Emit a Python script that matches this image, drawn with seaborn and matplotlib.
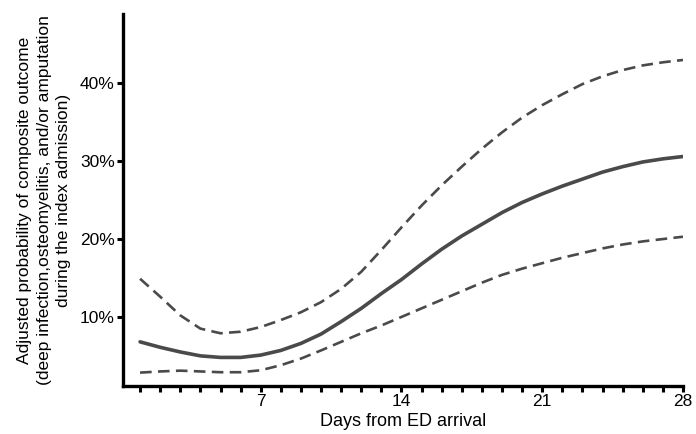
import matplotlib
matplotlib.use("Agg")
import matplotlib.pyplot as plt
import numpy as np
import pandas as pd
import seaborn as sns

# values (percent), one per day 1..28
days = list(range(1, 29))
estimate = [6.8, 6.1, 5.5, 5.0, 4.8, 4.8, 5.1, 5.7, 6.6, 7.8,
            9.4, 11.1, 13.0, 14.8, 16.8, 18.7, 20.4, 21.9, 23.4, 24.7,
            25.8, 26.8, 27.7, 28.6, 29.3, 29.9, 30.3, 30.6]
upper_ci = [14.9, 12.6, 10.2, 8.5, 7.9, 8.1, 8.7, 9.6, 10.6, 11.9,
            13.6, 15.8, 18.6, 21.5, 24.3, 26.9, 29.3, 31.6, 33.7, 35.6,
            37.2, 38.6, 39.9, 40.9, 41.7, 42.3, 42.7, 43.0]
lower_ci = [2.85, 3.0, 3.1, 3.0, 2.9, 2.9, 3.15, 3.8, 4.65, 5.7,
            6.8, 7.9, 8.9, 10.0, 11.1, 12.2, 13.3, 14.4, 15.4, 16.2,
            16.9, 17.6, 18.2, 18.8, 19.3, 19.7, 20.0, 20.3]

y_ticks = [10, 20, 30, 40]
x_labeled = [7, 14, 21, 28]

sns.set_theme(style="ticks")
plt.rcParams['font.family'] = ['Liberation Sans', 'DejaVu Sans']

df = pd.DataFrame({"day": days, "est": estimate, "hi": upper_ci, "lo": lower_ci})

fig = plt.figure(figsize=(6.96, 4.34), dpi=100)
ax = fig.add_axes([0.1767, 0.1106, 0.9813 - 0.1767, 0.9677 - 0.1106])

line_color = "#4a4a4a"
dash = (0, (4.4, 2.4))
sns.lineplot(data=df, x="day", y="est", ax=ax, color=line_color, linewidth=2.6)
sns.lineplot(data=df, x="day", y="hi", ax=ax, color=line_color, linewidth=1.9,
             linestyle=dash)
sns.lineplot(data=df, x="day", y="lo", ax=ax, color=line_color, linewidth=1.9,
             linestyle=dash)

ax.set_xlim(0.15, 28.0)
ax.set_ylim(1.13, 48.9)

ax.set_xticks(days)
ax.set_xticklabels([str(d) if d in x_labeled else "" for d in days])
ax.set_yticks(y_ticks)
ax.set_yticklabels([f"{v}%" for v in y_ticks])

for side in ["top", "right"]:
    ax.spines[side].set_visible(False)
for side in ["left", "bottom"]:
    ax.spines[side].set_linewidth(2.4)
    ax.spines[side].set_color("black")

ax.tick_params(axis="both", direction="out", length=4.5, width=2.2,
               color="black", labelsize=12.5, labelcolor="black", pad=1.5)

ax.set_xlabel("Days from ED arrival", fontsize=13, labelpad=3, color="black")
ax.set_ylabel("Adjusted probability of composite outcome\n"
              "(deep infection,osteomyelitis, and/or amputation\n"
              "during the index admission)",
              fontsize=12.5, linespacing=1.4, color="black")
ax.yaxis.set_label_coords(-0.092, 0.5)

fig.savefig("out.png", dpi=100)
